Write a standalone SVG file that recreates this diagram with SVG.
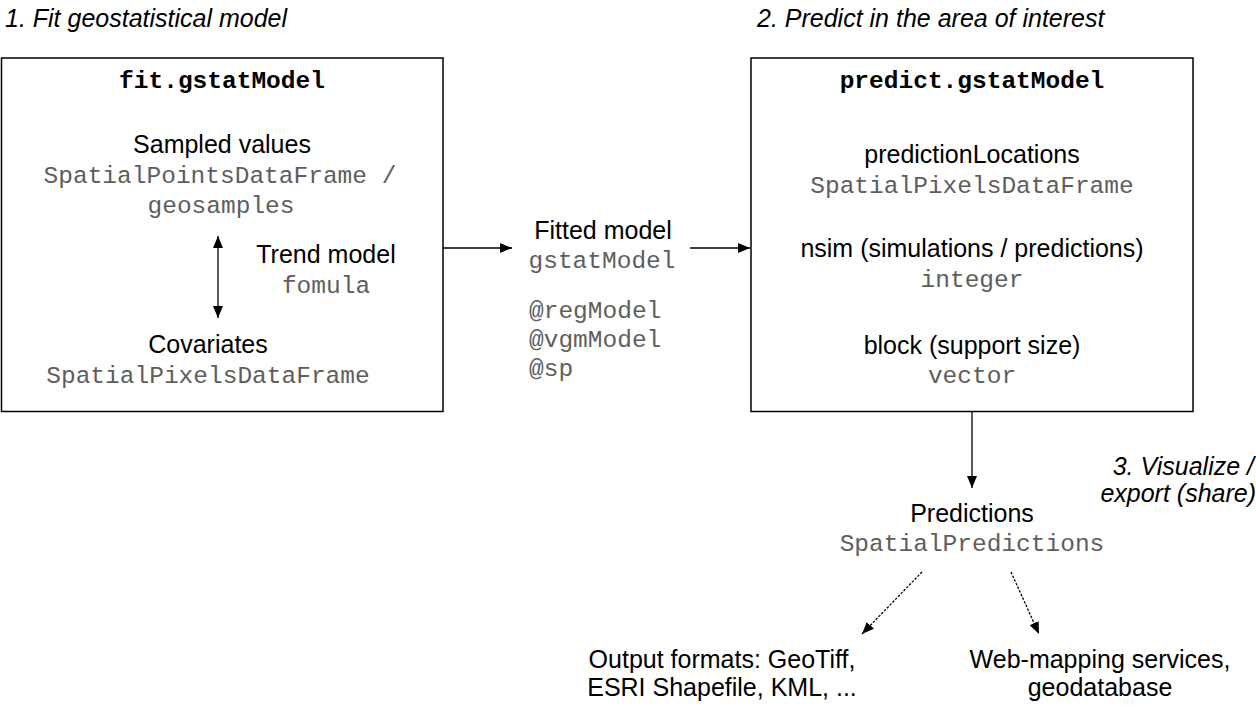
<svg xmlns="http://www.w3.org/2000/svg" width="1256" height="708" viewBox="0 0 1256 708">
<defs>
<marker id="ah" viewBox="0 0 12 10" refX="12" refY="5" markerWidth="12" markerHeight="10" markerUnits="userSpaceOnUse" orient="auto-start-reverse">
<path d="M0,0 L12,5 L0,10 z" fill="#000"/>
</marker>
</defs>
<style>
.box{fill:#fff;stroke:#000;stroke-width:1.5}
.s{font-family:"Liberation Sans",Arial,sans-serif;font-size:25px;fill:#000}
.i{font-family:"Liberation Sans",Arial,sans-serif;font-size:25px;font-style:italic;fill:#000}
.m{font-family:"Liberation Mono","Courier New",monospace;font-size:24.5px;fill:#5e5e5e}
.b{font-family:"Liberation Mono","Courier New",monospace;font-size:24.5px;font-weight:bold;fill:#000}
.c{text-anchor:middle}
.ln{stroke:#000;stroke-width:1.3;fill:none}
.dt{stroke:#000;stroke-width:1.3;fill:none;stroke-dasharray:2.5,1.5}
</style>
<rect width="1256" height="708" fill="#fff"/>
<g id="step-labels">
<text class="i" x="5" y="27">1. Fit geostatistical model</text>
<text class="i" x="757" y="27">2. Predict in the area of interest</text>
<text class="i" x="1254" y="475" text-anchor="end">3. Visualize /</text>
<text class="i" x="1256" y="502" text-anchor="end">export (share)</text>
</g>
<g id="fit">
<rect class="box" x="1.5" y="58" width="441.5" height="353.5"/>
<text class="b c" x="222" y="88">fit.gstatModel</text>
<text class="s c" x="222" y="153">Sampled values</text>
<text class="m c" x="220" y="183">SpatialPointsDataFrame /</text>
<text class="m c" x="221" y="213">geosamples</text>
<text class="s c" x="326" y="263">Trend model</text>
<text class="m c" x="326" y="293">fomula</text>
<text class="s c" x="208" y="353">Covariates</text>
<text class="m c" x="208" y="383">SpatialPixelsDataFrame</text>
</g>
<g id="fitted">
<text class="s c" x="603" y="239">Fitted model</text>
<text class="m c" x="602" y="268">gstatModel</text>
<text class="m" x="529" y="318">@regModel</text>
<text class="m" x="529" y="347">@vgmModel</text>
<text class="m" x="529" y="376">@sp</text>
</g>
<g id="predict">
<rect class="box" x="751" y="58" width="442" height="353.5"/>
<text class="b c" x="972" y="88">predict.gstatModel</text>
<text class="s c" x="972" y="163">predictionLocations</text>
<text class="m c" x="972" y="193">SpatialPixelsDataFrame</text>
<text class="s c" x="972" y="257">nsim (simulations / predictions)</text>
<text class="m c" x="972" y="287">integer</text>
<text class="s c" x="972" y="354">block (support size)</text>
<text class="m c" x="972" y="383">vector</text>
</g>
<g id="predictions">
<text class="s c" x="972" y="522">Predictions</text>
<text class="m c" x="972" y="551">SpatialPredictions</text>
</g>
<g id="output-formats">
<text class="s c" x="722" y="668">Output formats: GeoTiff,</text>
<text class="s c" x="722" y="696">ESRI Shapefile, KML, ...</text>
</g>
<g id="web-services">
<text class="s c" x="1100" y="668">Web-mapping services,</text>
<text class="s c" x="1100" y="696">geodatabase</text>
</g>
<g id="connectors">
<line class="ln" x1="218" y1="236" x2="218" y2="318" marker-start="url(#ah)" marker-end="url(#ah)"/>
<line class="ln" x1="443" y1="248" x2="512" y2="248" marker-end="url(#ah)"/>
<line class="ln" x1="690" y1="248" x2="750" y2="248" marker-end="url(#ah)"/>
<line class="ln" x1="972" y1="412" x2="972" y2="488" marker-end="url(#ah)"/>
<line class="dt" x1="922" y1="572" x2="862" y2="634" marker-end="url(#ah)"/>
<line class="dt" x1="1011" y1="572" x2="1039" y2="634" marker-end="url(#ah)"/>
</g>
</svg>
